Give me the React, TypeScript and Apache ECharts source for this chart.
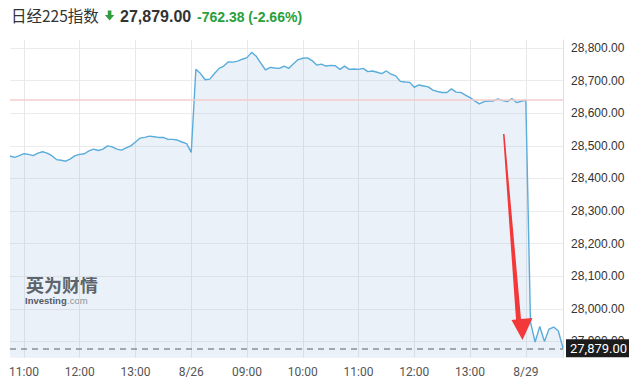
import React, { useEffect, useRef } from "react";
import * as echarts from "echarts";

// 5-minute slots; tick labels at given indices
const tickIndex = [3, 15, 27, 39, 51, 63, 75, 87, 99, 111];
const tickText = ["11:00", "12:00", "13:00", "8/26", "09:00", "10:00", "11:00", "12:00", "13:00", "8/29"];

const day1 = [
  28469, 28465, 28470, 28476, 28474, 28470, 28478, 28482, 28478, 28470,
  28458, 28456, 28453, 28460, 28470, 28474, 28476, 28485, 28490, 28486,
  28490, 28500, 28497, 28490, 28487, 28494, 28500, 28512, 28524, 28526,
  28530, 28528, 28526, 28526, 28520, 28520, 28518, 28512, 28507, 28480,
];
const day2 = [
  28735, 28722, 28703, 28705, 28722, 28738, 28745, 28758, 28757, 28760,
  28766, 28771, 28787, 28775, 28753, 28733, 28741, 28739, 28738, 28745,
  28738, 28752, 28765, 28769, 28770, 28762, 28748, 28751, 28745, 28747,
  28746, 28735, 28745, 28735, 28736, 28735, 28738, 28728, 28730, 28726,
  28722, 28730, 28720, 28715, 28698, 28696, 28695, 28680, 28687, 28684,
  28681, 28671, 28667, 28664, 28664, 28675, 28665, 28664, 28656, 28648,
  28638, 28629, 28636, 28638, 28638, 28644, 28639, 28636, 28645, 28633,
  28637, 28640,
];
const day3 = [27960, 27898, 27946, 27900, 27938, 27944, 27932, 27879];

const yTicks = [27900, 28000, 28100, 28200, 28300, 28400, 28500, 28600, 28700, 28800];
const lastPrice = 27879;
const prevClose = 28641.38;
const titleName = "日经225指数";
const priceText = "27,879.00";
const changeText = "-762.38 (-2.66%)";

const fmt = (v: number) =>
  v.toLocaleString("en-US", { minimumFractionDigits: 2, maximumFractionDigits: 2 });

export default function App() {
  const ref = useRef<HTMLDivElement>(null);
  useEffect(() => {
    if (!ref.current) return;
    const chart = echarts.init(ref.current, null, { renderer: "svg" });
    const values = [...day1, ...day2, ...day3];
    const categories = values.map((_, i) => String(i));
    const showTick = (i: number) => tickIndex.includes(i);
    chart.setOption({
      animation: false,
      grid: { left: 10, right: 66, top: 40, bottom: 23.3, containLabel: false },
      xAxis: {
        type: "category",
        data: categories,
        boundaryGap: false,
        axisLine: { show: false },
        axisTick: { show: false },
        axisLabel: {
          interval: (i: number) => showTick(i),
          formatter: (_v: string, i: number) => {
            const k = tickIndex.indexOf(i);
            return k >= 0 ? tickText[k] : "";
          },
          color: "#555",
          fontSize: 12,
          fontFamily: "Roboto",
          margin: 8,
        },
        splitLine: {
          show: true,
          interval: (i: number) => showTick(i),
          lineStyle: { color: "#e6e8eb", width: 1 },
        },
      },
      yAxis: {
        type: "value",
        position: "right",
        min: 27850,
        max: 28825,
        axisLine: { show: true, lineStyle: { color: "#dedede" } },
        axisTick: { show: false, customValues: yTicks },
        axisLabel: {
          customValues: yTicks,
          formatter: (v: number) => fmt(v),
          color: "#333",
          fontSize: 12,
          fontFamily: "Liberation Sans, Arial",
          margin: 8,
        },
        splitLine: { show: true, lineStyle: { color: "#ebebeb", width: 1 } },
      },
      series: [
        {
          type: "line",
          data: values,
          symbol: "none",
          lineStyle: { color: "#5aacdb", width: 1.4 },
          areaStyle: { color: "rgba(150,185,222,0.29)" },
          markLine: {
            silent: true,
            symbol: "none",
            data: [
              {
                yAxis: prevClose,
                lineStyle: { color: "#f5cccc", width: 1.6, type: "solid" },
                label: { show: false },
              },
              {
                yAxis: lastPrice,
                lineStyle: { color: "#8a9097", width: 1.6, type: [6, 5] },
                label: {
                  show: true,
                  position: "end",
                  distance: 3,
                  formatter: priceText,
                  color: "#fff",
                  backgroundColor: "#1c1c1c",
                  padding: [3, 4, 2, 4],
                  fontSize: 13,
                  fontFamily: "Roboto",
                },
              },
            ],
          },
        },
      ],
      graphic: [
        {
          type: "text",
          left: 11,
          top: 7,
          style: { text: titleName, fontSize: 15.5, fontFamily: "Noto Sans CJK SC", fill: "#333" },
        },
        {
          type: "polygon",
          shape: {
            points: [
              [107.8, 10.5],
              [111.4, 10.5],
              [111.4, 15],
              [114.3, 15],
              [109.6, 20.5],
              [104.9, 15],
              [107.8, 15],
            ],
          },
          style: { fill: "#2e9e3e" },
        },
        {
          type: "text",
          left: 120,
          top: 8,
          style: {
            text: priceText,
            fontSize: 16,
            fontWeight: "bold",
            fontFamily: "Liberation Sans, Arial",
            fill: "#333",
          },
        },
        {
          type: "text",
          left: 197,
          top: 9.5,
          style: {
            text: changeText,
            fontSize: 14,
            fontWeight: "bold",
            fontFamily: "Liberation Sans, Arial",
            fill: "#2aa03a",
          },
        },
        {
          type: "text",
          left: 26,
          top: 275,
          style: {
            text: "英为财情",
            fontSize: 18,
            lineHeight: 17,
            fontWeight: "bold",
            fontFamily: "Noto Sans CJK SC",
            fill: "#4f4f4f",
          },
        },
        {
          type: "text",
          left: 25,
          top: 295,
          style: {
            text: "Investing",
            fontSize: 9.5,
            lineHeight: 9,
            fontWeight: "bold",
            fill: "#444",
            fontFamily: "Liberation Sans, Arial",
          },
        },
        {
          type: "text",
          left: 67,
          top: 295,
          style: {
            text: ".com",
            fontSize: 9.5,
            lineHeight: 9,
            fill: "#888",
            fontFamily: "Liberation Sans, Arial",
          },
        },
        {
          type: "polygon",
          shape: {
            points: [
              [503, 134],
              [504.5, 134],
              [521, 319],
              [532.5, 318],
              [522.5, 340],
              [511.5, 320],
              [516, 319.5],
            ],
          },
          style: { fill: "#f23838" },
          z: 100,
        },
      ],
    });
    return () => chart.dispose();
  }, []);
  return <div ref={ref} style={{ width: 629, height: 381, position: "absolute", left: 0, top: 0 }} />;
}
